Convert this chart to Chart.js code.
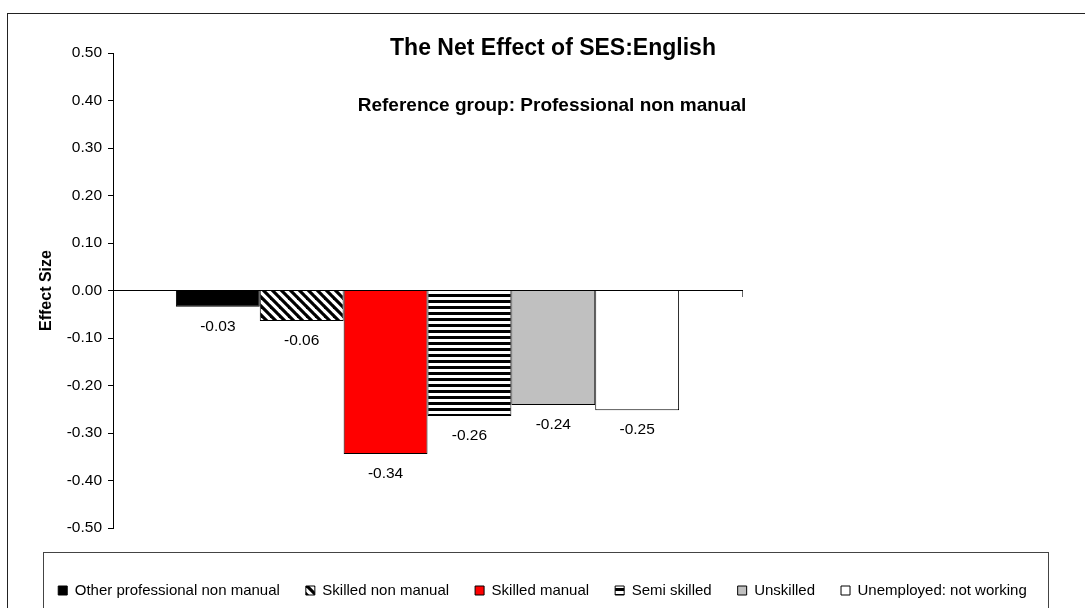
<!DOCTYPE html>
<html>
<head>
<meta charset="utf-8">
<script src="https://cdn.jsdelivr.net/npm/chart.js@4/dist/chart.umd.min.js"></script>
<style>
  html, body { margin: 0; padding: 0; background: #fff; }
  canvas { display: block; }
</style>
</head>
<body>
<canvas id="c" width="1085" height="608"></canvas>
<script>
// ---- Data ----
const categories = [''];
const seriesNames = ['Other professional non manual', 'Skilled non manual', 'Skilled manual', 'Semi skilled', 'Unskilled', 'Unemployed: not working'];
const otherProfessional = [-0.034];
const skilledNonManual = [-0.064];
const skilledManual = [-0.344];
const semiSkilled = [-0.264];
const unskilled = [-0.241];
const unemployed = [-0.252];
const yMin = -0.5, yMax = 0.5, yStep = 0.1;
const titleText = 'The Net Effect of SES:English';
const subtitleText = 'Reference group: Professional non manual';
const yAxisTitle = 'Effect Size';

const FONT = '"Liberation Sans", Arial, sans-serif';
Chart.defaults.font.family = FONT;
Chart.defaults.color = '#000';

const canvas = document.getElementById('c');
const mainCtx = canvas.getContext('2d');

function diagPattern() {
  const s = 9, c = document.createElement('canvas');
  c.width = s; c.height = s;
  const g = c.getContext('2d');
  g.fillStyle = '#fff'; g.fillRect(0, 0, s, s);
  g.strokeStyle = '#000'; g.lineWidth = 3.2;
  for (const off of [-s, 0, s]) {
    g.beginPath(); g.moveTo(-2, off - 2); g.lineTo(s + 2, off + s + 2); g.stroke();
  }
  return mainCtx.createPattern(c, 'repeat');
}
function hStripePattern() {
  const c = document.createElement('canvas');
  c.width = 4; c.height = 6;
  const g = c.getContext('2d');
  g.fillStyle = '#fff'; g.fillRect(0, 0, 4, 6);
  g.fillStyle = '#000'; g.fillRect(0, 0, 4, 3);
  return mainCtx.createPattern(c, 'repeat');
}

const seriesValues = [otherProfessional, skilledNonManual, skilledManual, semiSkilled, unskilled, unemployed];
const fills = ['#000000', diagPattern(), '#ff0000', hStripePattern(), '#c0c0c0', '#ffffff'];

const datasets = seriesNames.map((name, i) => ({
  label: name,
  data: seriesValues[i],
  backgroundColor: fills[i],
  borderColor: '#000',
  borderWidth: 1,
  categoryPercentage: 0.8,
  barPercentage: 1.0
}));

const decorPlugin = {
  id: 'decor',
  afterDraw(chart) {
    const ctx = chart.ctx;
    ctx.save();
    // outer frame
    ctx.strokeStyle = '#222';
    ctx.lineWidth = 1;
    ctx.strokeRect(7.5, 13.5, 2000, 2000);
    // legend frame
    const lg = chart.legend;
    ctx.strokeStyle = '#444';
    ctx.strokeRect(43.5, Math.round(lg.top) + 24.5, 1005, 200);
    // titles
    ctx.fillStyle = '#000';
    ctx.textAlign = 'center';
    ctx.textBaseline = 'alphabetic';
    ctx.font = 'bold 23px ' + FONT;
    ctx.fillText(titleText, 553, 55);
    ctx.font = 'bold 19px ' + FONT;
    ctx.fillText(subtitleText, 552, 111);
    ctx.restore();
  }
};

const valueLabels = {
  id: 'valueLabels',
  afterDatasetsDraw(chart) {
    const ctx = chart.ctx;
    ctx.save();
    ctx.font = '15.5px ' + FONT;
    ctx.fillStyle = '#000';
    ctx.textAlign = 'center';
    ctx.textBaseline = 'middle';
    chart.data.datasets.forEach((ds, i) => {
      const meta = chart.getDatasetMeta(i);
      meta.data.forEach((bar, j) => {
        const v = ds.data[j];
        ctx.fillText(v.toFixed(2), bar.x, bar.y + (v < 0 ? 20 : -20));
      });
    });
    ctx.restore();
  }
};

new Chart(canvas, {
  type: 'bar',
  data: { labels: categories, datasets },
  options: {
    responsive: false,
    animation: false,
    devicePixelRatio: 1,
    layout: { padding: { top: 53, right: 0, left: 0, bottom: 0 } },
    plugins: {
      legend: {
        position: 'bottom',
        title: { display: true, text: ' ', padding: { top: 17, bottom: 0 }, font: { size: 10 } },
        labels: {
          font: { size: 15 },
          color: '#000',
          boxWidth: 9,
          boxHeight: 9,
          padding: 26
        }
      },
      tooltip: { enabled: false }
    },
    scales: {
      x: {
        position: { y: 0 },
        offset: true,
        ticks: { display: false },
        grid: { drawOnChartArea: false, drawTicks: true, tickLength: 6, color: '#666', offset: true },
        border: { color: '#000', width: 1 }
      },
      y: {
        min: yMin,
        max: yMax,
        afterFit(scale) { scale.width = 113; },
        ticks: {
          stepSize: yStep,
          font: { size: 15.5 },
          color: '#000',
          padding: 6,
          callback: v => (Math.abs(v) < 1e-9 ? 0 : v).toFixed(2)
        },
        grid: { drawOnChartArea: false, drawTicks: true, tickLength: 5, color: '#000' },
        border: { color: '#000', width: 1 },
        title: {
          display: true,
          text: yAxisTitle,
          font: { size: 16, weight: 'bold' },
          color: '#000',
          padding: { top: 37, bottom: 0 }
        }
      },
      spacerRight: {
        type: 'linear',
        position: 'right',
        afterFit(scale) { scale.width = 343; },
        ticks: { display: false },
        grid: { display: false },
        border: { display: false }
      }
    }
  },
  plugins: [valueLabels, decorPlugin]
});
</script>
</body>
</html>
